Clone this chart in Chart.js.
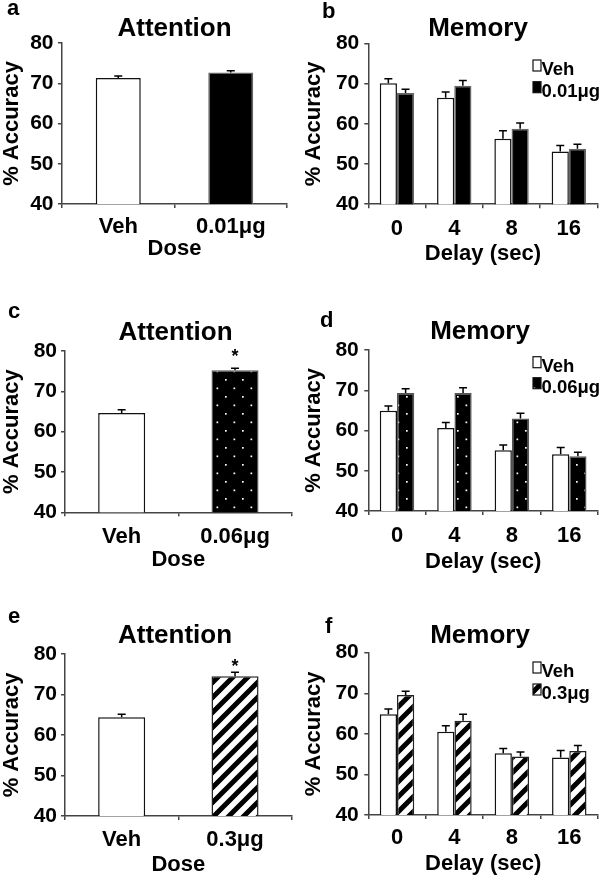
<!DOCTYPE html>
<html>
<head>
<meta charset="utf-8">
<script src="https://cdn.jsdelivr.net/npm/chart.js@4.4.1/dist/chart.umd.min.js"></script>
<style>
  body { margin: 0; background: #fff; width: 600px; height: 880px; position: relative; overflow: hidden; }
  canvas { position: absolute; }
</style>
</head>
<body>
<canvas id="pa" width="300" height="290" style="left:0;top:0"></canvas>
<canvas id="pb" width="300" height="290" style="left:300px;top:0"></canvas>
<canvas id="pc" width="300" height="290" style="left:0;top:290px"></canvas>
<canvas id="pd" width="300" height="290" style="left:300px;top:290px"></canvas>
<canvas id="pe" width="300" height="300" style="left:0;top:580px"></canvas>
<canvas id="pf" width="300" height="300" style="left:300px;top:580px"></canvas>
<script>
const FONT = '"Liberation Sans", Arial, sans-serif';

// attention panels (a, c, e)
const doseA = ['Veh', '0.01μg'];
const attnA = [71.3, 72.7];
const attnAErr = [0.5, 0.4];

const doseC = ['Veh', '0.06μg'];
const attnC = [64.6, 75.2];
const attnCErr = [0.8, 0.55];
const starsC = [false, true];

const doseE = ['Veh', '0.3μg'];
const attnE = [64.4, 74.5];
const attnEErr = [0.7, 1.0];
const starsE = [false, true];

// memory panels (b, d, f)
const delays = ['0', '4', '8', '16'];

const memBVeh = [70.1, 66.5, 56.3, 53.1];
const memBVehErr = [1.1, 1.4, 2.0, 1.5];
const memBDrug = [67.7, 69.5, 58.8, 53.8];
const memBDrugErr = [0.9, 1.3, 1.4, 1.1];

const memDVeh = [64.9, 60.6, 55.1, 54.1];
const memDVehErr = [1.2, 1.4, 1.3, 1.7];
const memDDrug = [69.3, 69.3, 63.0, 53.6];
const memDDrugErr = [1.1, 1.3, 1.3, 1.0];

const memFVeh = [64.8, 60.5, 55.2, 54.2];
const memFVehErr = [1.3, 1.5, 1.2, 1.7];
const memFDrug = [69.6, 63.2, 54.4, 55.8];
const memFDrugErr = [0.9, 1.6, 1.1, 1.3];

Chart.defaults.font.family = FONT;
Chart.defaults.font.weight = 'bold';
Chart.defaults.color = '#000';

function dotPattern() {
  const c = document.createElement('canvas');
  c.width = 17; c.height = 17;
  const g = c.getContext('2d');
  g.fillStyle = '#000';
  g.fillRect(0, 0, 17, 17);
  g.fillStyle = '#fff';
  g.fillRect(4, 4, 1.7, 1.7);
  g.fillRect(12.5, 12.5, 1.7, 1.7);
  return g.createPattern(c, 'repeat');
}

function stripePattern() {
  const s = 15;
  const c = document.createElement('canvas');
  c.width = s; c.height = s;
  const g = c.getContext('2d');
  g.fillStyle = '#fff';
  g.fillRect(0, 0, s, s);
  g.strokeStyle = '#000';
  g.lineWidth = 5;
  g.beginPath();
  g.moveTo(0, s); g.lineTo(s, 0);
  g.moveTo(-s / 2, s / 2); g.lineTo(s / 2, -s / 2);
  g.moveTo(s / 2, s * 1.5); g.lineTo(s * 1.5, s / 2);
  g.stroke();
  return g.createPattern(c, 'repeat');
}

const DOTS = dotPattern();
const STRIPES = stripePattern();

// upper whiskers + significance stars
const errorBars = {
  id: 'errorBars',
  afterDatasetsDraw(chart) {
    const { ctx } = chart;
    const y = chart.scales.y;
    const o = chart.options.plugins.errorBars || {};
    ctx.save();
    chart.data.datasets.forEach((ds, di) => {
      const meta = chart.getDatasetMeta(di);
      meta.data.forEach((bar, i) => {
        const top = y.getPixelForValue(ds.data[i] + ds.errors[i]);
        ctx.strokeStyle = '#000';
        ctx.lineWidth = 1.5;
        ctx.beginPath();
        ctx.moveTo(bar.x, bar.y);
        ctx.lineTo(bar.x, top);
        ctx.moveTo(bar.x - 4, top);
        ctx.lineTo(bar.x + 4, top);
        ctx.stroke();
        if (ds.stars && ds.stars[i]) {
          ctx.fillStyle = '#000';
          ctx.font = 'bold 18px ' + FONT;
          ctx.textAlign = 'center';
          ctx.textBaseline = 'alphabetic';
          ctx.fillText('*', bar.x, top - o.starOffset + 10.5);
        }
      });
    });
    ctx.restore();
  }
};

// panel letter + title
const panelText = {
  id: 'panelText',
  afterDraw(chart) {
    const o = chart.options.plugins.panelText;
    const { ctx } = chart;
    ctx.save();
    ctx.fillStyle = '#000';
    ctx.textBaseline = 'alphabetic';
    ctx.font = 'bold 22px ' + FONT;
    ctx.textAlign = 'left';
    ctx.fillText(o.letter, o.lx, o.ly);
    ctx.font = 'bold 26px ' + FONT;
    ctx.textAlign = 'center';
    ctx.fillText(o.title, o.tx, o.ty);
    ctx.restore();
  }
};

// small box legend inside the plot
const boxLegend = {
  id: 'boxLegend',
  afterDraw(chart) {
    const o = chart.options.plugins.boxLegend;
    if (!o || !o.show) return;
    const { ctx } = chart;
    ctx.save();
    chart.data.datasets.forEach((ds, i) => {
      const base = o.y + i * o.gap;
      ctx.fillStyle = ds.backgroundColor;
      ctx.fillRect(o.x, base - 15, 8, 11);
      ctx.strokeStyle = '#111';
      ctx.lineWidth = 1.2;
      ctx.strokeRect(o.x, base - 15, 8, 11);
      ctx.fillStyle = '#000';
      ctx.font = 'bold 18.5px ' + FONT;
      ctx.textAlign = 'left';
      ctx.textBaseline = 'alphabetic';
      ctx.fillText(ds.label, o.x + 8.5, base);
    });
    ctx.restore();
  }
};

function makeChart(id, p) {
  return new Chart(document.getElementById(id), {
    type: 'bar',
    data: { labels: p.labels, datasets: p.datasets },
    options: {
      responsive: false,
      animation: false,
      events: [],
      layout: { padding: { left: 0, top: p.top, right: 300 - p.right, bottom: p.h - p.bottom - p.xH } },
      datasets: { bar: { categoryPercentage: p.catPct, barPercentage: 1, borderSkipped: false } },
      plugins: {
        legend: { display: false },
        tooltip: { enabled: false },
        errorBars: { starOffset: p.starOffset || 0 },
        panelText: p.text,
        boxLegend: p.legend
      },
      scales: {
        x: {
          offset: true,
          grid: { offset: true, drawOnChartArea: false, drawTicks: true, tickLength: 4, color: '#444', lineWidth: 1.5 },
          border: { display: true, color: '#444', width: 1.5 },
          ticks: { font: { size: 22, weight: 'bold', lineHeight: 1 }, padding: p.xPad, color: '#000' },
          title: { display: true, text: p.xTitle, font: { size: 22, weight: 'bold', lineHeight: 1 }, padding: 0, color: '#000' },
          afterFit: (s) => { s.height = p.xH; }
        },
        y: {
          min: 40, max: 80,
          grid: { drawOnChartArea: false, drawTicks: true, tickLength: 4, color: '#444', lineWidth: 1.5 },
          border: { display: true, color: '#444', width: 1.5 },
          ticks: { stepSize: 10, font: { size: 21, weight: 'bold', lineHeight: 1 }, padding: p.yPad, color: '#000' },
          title: { display: true, text: '% Accuracy', font: { size: 22, weight: 'bold', lineHeight: 1 }, padding: { top: p.yTitlePad, bottom: 0 }, color: '#000' },
          afterFit: (s) => { s.width = p.yW; }
        }
      }
    },
    plugins: [errorBars, panelText, boxLegend]
  });
}

function attnSet(values, errs, drugFill, drugBorder, stars) {
  return [{
    data: values,
    errors: errs,
    stars: stars,
    backgroundColor: ['#fff', drugFill],
    borderColor: ['#111', drugBorder],
    borderWidth: 1.5
  }];
}

function memSets(veh, vehErr, drug, drugErr, drugLabel, drugFill, drugBorder) {
  return [
    { label: 'Veh', data: veh, errors: vehErr, backgroundColor: '#fff', borderColor: '#111', borderWidth: 1.5 },
    { label: drugLabel, data: drug, errors: drugErr, backgroundColor: drugFill, borderColor: drugBorder, borderWidth: 1.5 }
  ];
}

makeChart('pa', {
  labels: doseA, datasets: attnSet(attnA, attnAErr, '#000', '#666'),
  h: 290, top: 43, bottom: 204, right: 287, yW: 62, xH: 56, xPad: 7.5, yPad: 4.5, yTitlePad: 0.7,
  catPct: 0.4, xTitle: 'Dose',
  text: { letter: 'a', lx: 7, ly: 15, title: 'Attention', tx: 174.5, ty: 36 }
});

makeChart('pb', {
  labels: delays, datasets: memSets(memBVeh, memBVehErr, memBDrug, memBDrugErr, '0.01μg', '#000', '#666'),
  h: 290, top: 43.5, bottom: 204.2, right: 297.5, yW: 68.3, xH: 61, xPad: 10, yPad: 5, yTitlePad: 2.5,
  catPct: 0.6, xTitle: 'Delay (sec)',
  text: { letter: 'b', lx: 22, ly: 18, title: 'Memory', tx: 178, ty: 36 },
  legend: { show: true, x: 233, y: 75, gap: 21.7 }
});

makeChart('pc', {
  labels: doseC, datasets: attnSet(attnC, attnCErr, DOTS, '#555', starsC),
  h: 290, top: 61, bottom: 222.3, right: 291.7, yW: 65, xH: 58.7, xPad: 9.5, yPad: 4, yTitlePad: 0.7,
  catPct: 0.415, xTitle: 'Dose', starOffset: 17,
  text: { letter: 'c', lx: 8, ly: 28, title: 'Attention', tx: 175.5, ty: 50 }
});

makeChart('pd', {
  labels: delays, datasets: memSets(memDVeh, memDVehErr, memDDrug, memDDrugErr, '0.06μg', DOTS, '#555'),
  h: 290, top: 60, bottom: 221, right: 298, yW: 68.3, xH: 61.5, xPad: 9.5, yPad: 5.5, yTitlePad: 2.5,
  catPct: 0.6, xTitle: 'Delay (sec)',
  text: { letter: 'd', lx: 20, ly: 37, title: 'Memory', tx: 180, ty: 49 },
  legend: { show: true, x: 233, y: 81.7, gap: 21 }
});

makeChart('pe', {
  labels: doseE, datasets: attnSet(attnE, attnEErr, STRIPES, '#222', starsE),
  h: 300, top: 74, bottom: 236, right: 291.7, yW: 65, xH: 60, xPad: 9, yPad: 4, yTitlePad: 0.7,
  catPct: 0.415, xTitle: 'Dose', starOffset: 10.5,
  text: { letter: 'e', lx: 8, ly: 43, title: 'Attention', tx: 175, ty: 63 }
});

makeChart('pf', {
  labels: delays, datasets: memSets(memFVeh, memFVehErr, memFDrug, memFDrugErr, '0.3μg', STRIPES, '#222'),
  h: 300, top: 72.7, bottom: 235, right: 298, yW: 68.3, xH: 60, xPad: 7.5, yPad: 5.5, yTitlePad: 2.5,
  catPct: 0.6, xTitle: 'Delay (sec)',
  text: { letter: 'f', lx: 25, ly: 53, title: 'Memory', tx: 180, ty: 63 },
  legend: { show: true, x: 233, y: 97, gap: 22 }
});
</script>
</body>
</html>
